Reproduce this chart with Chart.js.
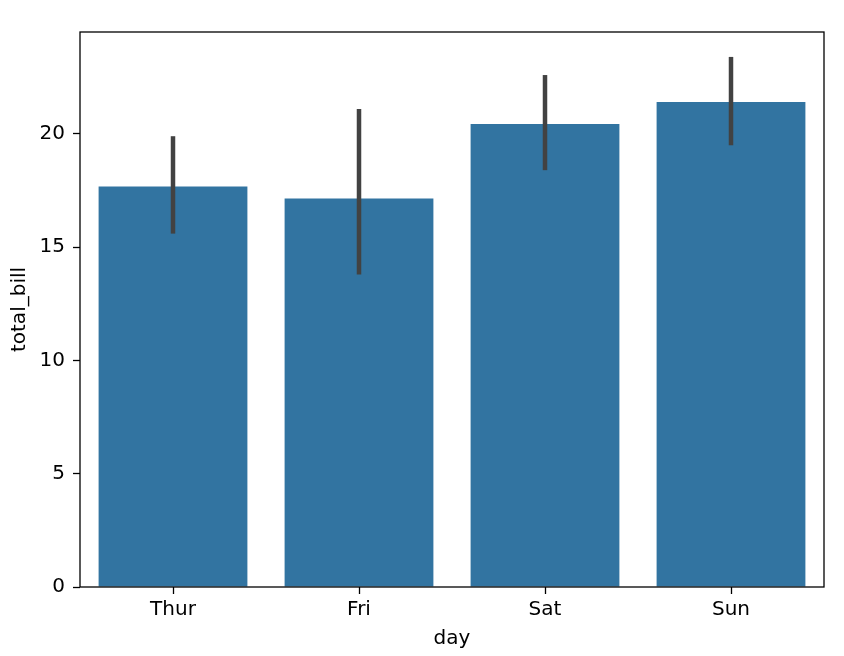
<!DOCTYPE html>
<html>
<head>
<meta charset="utf-8">
<script src="https://cdn.jsdelivr.net/npm/chart.js@4"></script>
<style>
  html, body { margin: 0; padding: 0; background: #fff; }
  #wrap { width: 844px; height: 656px; }
</style>
</head>
<body>
<div id="wrap"><canvas id="chart" width="844" height="656"></canvas></div>
<script>
const days = ['Thur', 'Fri', 'Sat', 'Sun'];
const meanBill = [17.68, 17.15, 20.44, 21.41];
const ciLow = [15.6, 13.8, 18.4, 19.5];
const ciHigh = [19.9, 21.1, 22.6, 23.4];
const yTicks = [0, 5, 10, 15, 20];

const FONT = 'DejaVu Sans';

// error bars + full box around the plot
const extras = {
  id: 'extras',
  afterDatasetsDraw(chart) {
    const ctx = chart.ctx;
    const x = chart.scales.x, y = chart.scales.y;
    ctx.save();
    ctx.strokeStyle = '#424242';
    ctx.lineWidth = 4.5;
    days.forEach((d, i) => {
      const px = x.getPixelForValue(i);
      ctx.beginPath();
      ctx.moveTo(px, y.getPixelForValue(ciLow[i]));
      ctx.lineTo(px, y.getPixelForValue(ciHigh[i]));
      ctx.stroke();
    });
    const a = chart.chartArea;
    ctx.strokeStyle = '#000';
    ctx.lineWidth = 1.3;
    ctx.strokeRect(a.left, a.top, a.right - a.left, a.bottom - a.top);
    ctx.restore();
  }
};

new Chart(document.getElementById('chart'), {
  type: 'bar',
  data: {
    labels: days,
    datasets: [{
      data: meanBill,
      backgroundColor: '#3274a1',
      borderWidth: 0,
      categoryPercentage: 0.8,
      barPercentage: 1.0
    }]
  },
  options: {
    responsive: false,
    animation: false,
    layout: { padding: { top: 32, right: 20, left: 0, bottom: 0 } },
    plugins: { legend: { display: false }, tooltip: { enabled: false } },
    scales: {
      x: {
        grid: { offset: false, drawOnChartArea: false, color: '#000', tickLength: 7, tickWidth: 1.3 },
        border: { display: false },
        ticks: { color: '#000', font: { family: FONT, size: 20 }, padding: 4, maxRotation: 0 },
        title: { display: true, text: 'day', color: '#000', font: { family: FONT, size: 20 }, padding: { top: 0, bottom: 5 } },
        afterFit(scale) { scale.height = 69; }
      },
      y: {
        min: 0,
        max: 24.5,
        afterBuildTicks(scale) { scale.ticks = yTicks.map(v => ({ value: v })); },
        grid: { drawOnChartArea: false, color: '#000', tickLength: 7, tickWidth: 1.3 },
        border: { display: false },
        ticks: { color: '#000', font: { family: FONT, size: 20 }, padding: 8 },
        title: { display: true, text: 'total_bill', color: '#000', font: { family: FONT, size: 20 }, padding: { top: 8, bottom: 0 } },
        afterFit(scale) { scale.width = 80; }
      }
    }
  },
  plugins: [extras]
});
</script>
</body>
</html>
